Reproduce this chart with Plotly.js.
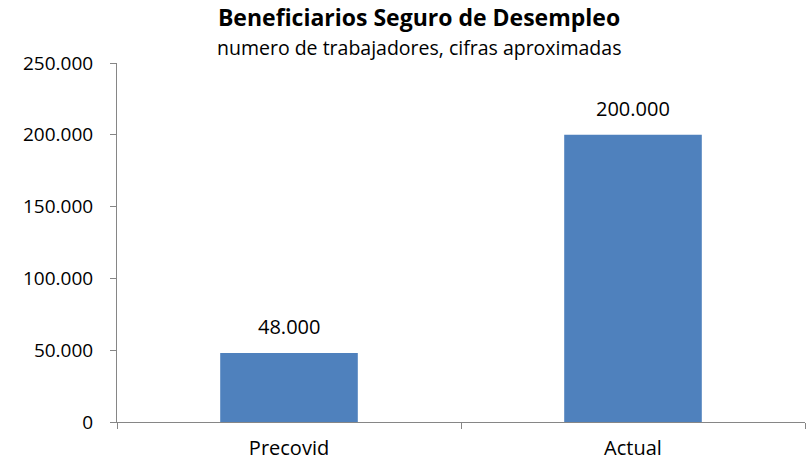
<!DOCTYPE html>
<html><head><meta charset="utf-8">
<script src="https://cdn.plot.ly/plotly-3.0.1.min.js"></script>
<style>body{margin:0;padding:0;background:#fff}#chart{width:812px;height:463px}</style>
</head><body><div id="chart"></div>
<script>
var categories = ["Precovid", "Actual"];
var values = [48000, 200000];
var labels = ["48.000", "200.000"];
var tickVals = [0, 50000, 100000, 150000, 200000, 250000];
var tickText = ["0", "50.000", "100.000", "150.000", "200.000", "250.000"];

var FONT = "Open Sans, sans-serif";
var trace = {
  type: "bar", x: categories, y: values,
  marker: {color: "#4F81BD"}, hoverinfo: "none"
};
var annotations = [{text: "numero de trabajadores, cifras aproximadas", xref: "paper", yref: "paper",
    x: 0.439, y: 1.0, yshift: 16, xanchor: "center", yanchor: "middle", showarrow: false,
    font: {family: FONT, size: 19.5, color: "#000"}}];
for (var i = 0; i < categories.length; i++) {
  annotations.push({x: categories[i], y: values[i], text: labels[i], xref: "x", yref: "y",
    showarrow: false, xanchor: "center", yanchor: "bottom", yshift: 11,
    font: {family: FONT, size: 20, color: "#000"}});
}
var layout = {
  width: 812, height: 463,
  margin: {l: 117, r: 7, t: 63, b: 41},
  paper_bgcolor: "#fff", plot_bgcolor: "#fff",
  bargap: 0.6, showlegend: false,
  font: {family: FONT, color: "#000"},
  title: {text: "<b>Beneficiarios Seguro de Desempleo</b>", font: {family: FONT, size: 23, color: "#000"},
          x: 0.439, xanchor: "center", xref: "paper", y: 0.961, yanchor: "middle", yref: "container"},
  annotations: annotations,
  xaxis: {type: "category", showline: true, linecolor: "#868686", linewidth: 1,
          ticks: "outside", tickson: "boundaries", ticklen: 6, tickcolor: "#868686",
          tickfont: {family: FONT, size: 20, color: "#000"}, ticklabelstandoff: 8,
          showgrid: false, zeroline: false, fixedrange: true},
  yaxis: {range: [0, 250000], tickvals: tickVals, ticktext: tickText, showline: true, linecolor: "#868686",
          ticks: "outside", ticklen: 6, tickcolor: "#868686", showgrid: false, zeroline: false,
          tickfont: {family: FONT, size: 19, color: "#000"}, ticklabelstandoff: 13, fixedrange: true}
};
Plotly.newPlot("chart", [trace], layout, {staticPlot: true, displayModeBar: false});
</script></body></html>
